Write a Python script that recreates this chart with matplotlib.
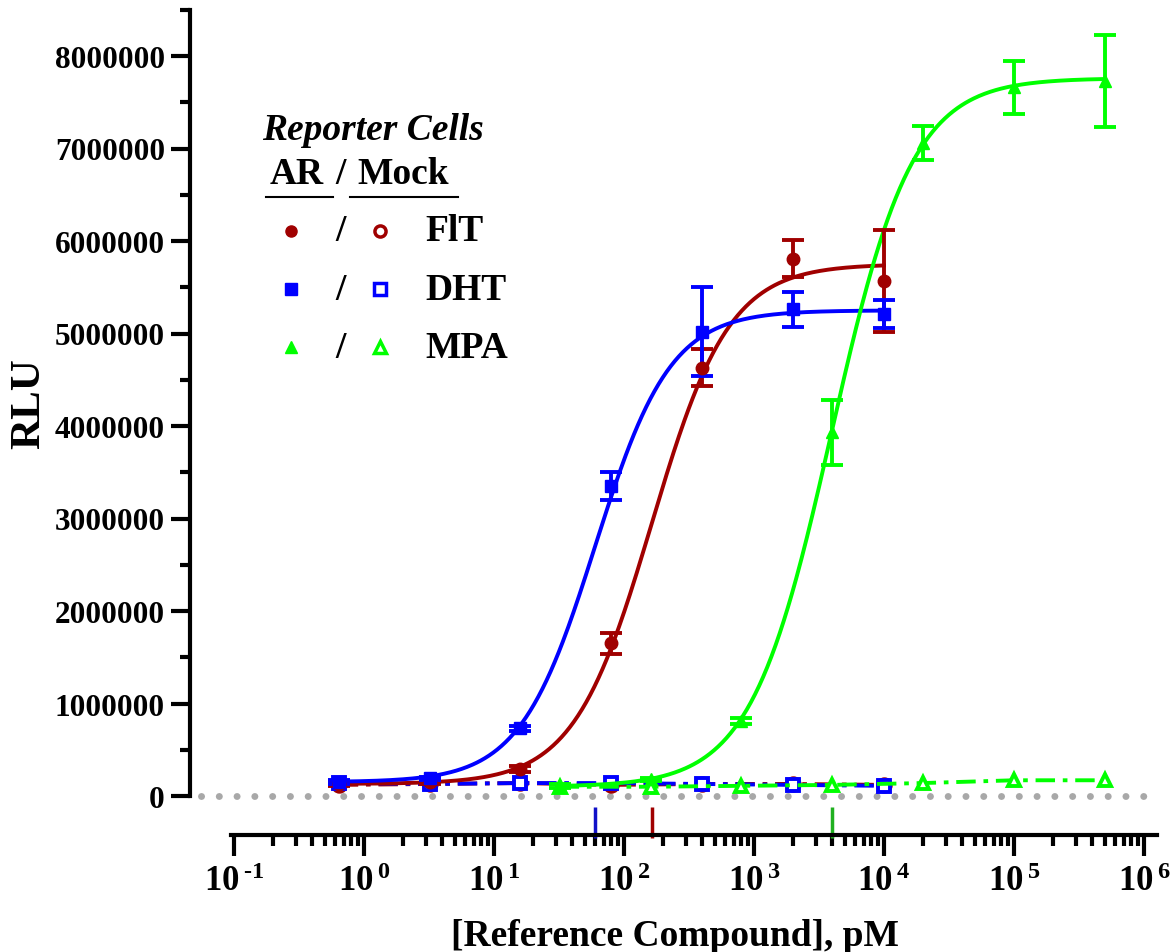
import numpy as np
import matplotlib
matplotlib.use("Agg")
import matplotlib.pyplot as plt
from matplotlib.lines import Line2D
from matplotlib.ticker import FixedLocator, FuncFormatter, MultipleLocator, NullFormatter

plt.rcParams["font.family"] = ["Liberation Serif", "DejaVu Serif"]
plt.rcParams["font.weight"] = "bold"
plt.rcParams["mathtext.fontset"] = "custom"
plt.rcParams["mathtext.bf"] = "Liberation Serif:bold"
plt.rcParams["mathtext.rm"] = "Liberation Serif:bold"

# ── Data (pM / RLU) ──────────────────────────────────────────────────────────
conc_ar = [0.64, 3.2, 16, 80, 400, 2000, 10000]
conc_mpa = [32, 160, 800, 4000, 20000, 100000, 500000]

flt_ar = [130000, 150000, 290000, 1650000, 4630000, 5810000, 5570000]
flt_ar_err = [20000, 20000, 30000, 110000, 200000, 200000, 550000]
dht_ar = [150000, 190000, 730000, 3350000, 5020000, 5260000, 5210000]
dht_ar_err = [20000, 20000, 30000, 150000, 480000, 190000, 150000]
mpa_ar = [110000, 180000, 810000, 3930000, 7060000, 7660000, 7730000]
mpa_ar_err = [20000, 20000, 30000, 350000, 180000, 290000, 500000]

flt_mock = [120000, 130000, 140000, 120000, 130000, 130000, 120000]
dht_mock = [140000, 130000, 140000, 140000, 130000, 120000, 110000]
mpa_mock = [100000, 100000, 110000, 120000, 140000, 170000, 170000]

# fitted 4PL parameters: bottom, top, EC50, hill
fit_flt = (130000, 5750000, 163, 1.45)
fit_dht = (150000, 5250000, 60, 1.5)
fit_mpa = (100000, 7760000, 3950, 1.4)

RED, BLUE, GREEN = "#a00000", "#0000ff", "#00ff00"
EC50_COLORS = ["#1010c8", "#a00000", "#20b020"]


def four_pl(x, bottom, top, ec50, hill):
    return bottom + (top - bottom) / (1 + (ec50 / x) ** hill)


def decade_label(v, pos):
    e = round(np.log10(v))
    exp = r"\text{-}%d" % -e if e < 0 else "%d" % e
    return r"$\mathbf{10^{\,%s}}$" % exp


fig = plt.figure(figsize=(11.74, 9.53), dpi=100)
ax = fig.add_axes([190 / 1174, 1 - 797 / 953, 970 / 1174, 786.25 / 953])

ax.plot([10 ** -1.25, 10 ** 6.03], [0, 0], color="#a8a8a8", lw=5, ls=(0, (0.01, 2.55)),
        dash_capstyle="round", zorder=1, clip_on=False)

series = [
    (conc_ar, flt_ar, flt_ar_err, flt_mock, fit_flt, RED, "o"),
    (conc_ar, dht_ar, dht_ar_err, dht_mock, fit_dht, BLUE, "s"),
    (conc_mpa, mpa_ar, mpa_ar_err, mpa_mock, fit_mpa, GREEN, "^"),
]
for conc, ar, err, mock, fit, col, mk in series:
    ax.plot(conc, mock, color=col, lw=2.8, ls=(0, (5, 2, 1.2, 2)), marker=mk,
            ms=9, mfc="white", mec=col, mew=2.8, zorder=3, clip_on=False)
for conc, ar, err, mock, fit, col, mk in series:
    xs = np.logspace(np.log10(conc[0]), np.log10(conc[-1]), 400)
    ax.plot(xs, four_pl(xs, *fit), color=col, lw=2.8, zorder=4)
    ax.errorbar(conc, ar, yerr=err, fmt=mk, color=col, ms=9, elinewidth=2.8,
                capsize=8, capthick=2.8, zorder=5, clip_on=False)

# EC50 marks under the baseline
for fit, col in zip([fit_dht, fit_flt, fit_mpa], EC50_COLORS):
    ax.vlines(fit[2], -450000, -120000, color=col, lw=2.5, clip_on=False)

ax.set_xscale("log")
ax.set_xlim(10 ** -1.338, 10 ** 6.123)
ax.set_ylim(0, 8.5e6)

for s in ["top", "right"]:
    ax.spines[s].set_visible(False)
ax.spines["left"].set_linewidth(3)
ax.spines["bottom"].set_linewidth(3)
ax.spines["bottom"].set_position(("outward", 28))
ax.spines["bottom"].set_bounds(10 ** -1.02, 10 ** 6.1)

decades = list(range(-1, 7))
ax.xaxis.set_major_locator(FixedLocator([10.0 ** e for e in decades]))
ax.xaxis.set_minor_locator(FixedLocator([m * 10.0 ** e for e in decades[:-1] for m in range(2, 10)]))
ax.xaxis.set_minor_formatter(NullFormatter())
ax.xaxis.set_major_formatter(FuncFormatter(decade_label))
ax.yaxis.set_major_locator(MultipleLocator(1e6))
ax.yaxis.set_minor_locator(MultipleLocator(5e5))
ax.yaxis.set_major_formatter(FuncFormatter(lambda v, p: "%d" % v))

ax.tick_params(axis="both", which="major", width=3, length=14, labelsize=22.5, pad=4)
ax.tick_params(axis="both", which="minor", width=3, length=7)
ax.tick_params(axis="x", which="major", length=15, pad=7, labelsize=25)
ax.tick_params(axis="x", which="minor", length=8)

ax.set_xlabel("[Reference Compound], pM", fontsize=27, fontweight="bold", labelpad=14)
ax.set_ylabel("RLU", fontsize=31, fontweight="bold", labelpad=5)

# ── Legend (figure pixel coordinates) ────────────────────────────────────────
def fx(px):
    return px / 1174


def fy(py):
    return 1 - py / 953


fig.text(fx(262), fy(130), "Reporter Cells", fontsize=27, style="italic", weight="bold", va="center")
fig.text(fx(270), fy(175), "AR", fontsize=27, weight="bold", va="center")
fig.text(fx(335), fy(175), "/", fontsize=27, weight="bold", va="center")
fig.text(fx(357), fy(175), "Mock", fontsize=27, weight="bold", va="center")
fig.add_artist(Line2D([fx(266), fx(333)], [fy(198), fy(198)], color="black", lw=1.5))
fig.add_artist(Line2D([fx(350), fx(458)], [fy(198), fy(198)], color="black", lw=1.5))

rows = [("FlT", RED, "o", 232), ("DHT", BLUE, "s", 290), ("MPA", GREEN, "^", 348)]
for name, col, mk, py in rows:
    fig.add_artist(Line2D([fx(291)], [fy(py)], marker=mk, ms=8, color=col, mec=col))
    fig.add_artist(Line2D([fx(380)], [fy(py)], marker=mk, ms=8, mfc="white", mec=col, mew=2.5))
    fig.text(fx(341), fy(py), "/", fontsize=27, weight="bold", va="center", ha="center")
    fig.text(fx(425), fy(py), name, fontsize=27, weight="bold", va="center")

fig.savefig("out.png", dpi=100)
